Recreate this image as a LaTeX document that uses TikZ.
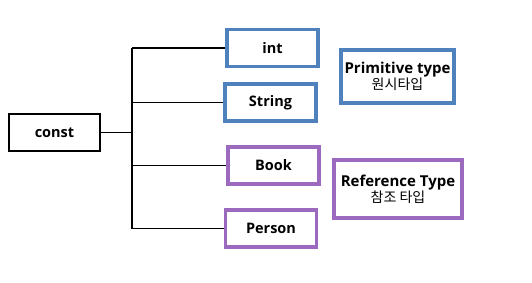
\documentclass[tikz,border=0pt]{standalone}
\usepackage{fontspec}
\setmainfont{Open Sans}
\newfontfamily\kr{Noto Sans CJK KR}
\usetikzlibrary{positioning}

\definecolor{primblue}{RGB}{79,129,189}
\definecolor{refpurple}{RGB}{155,106,190}

\begin{document}
\begin{tikzpicture}[
  x=1pt, y=-1pt,
  box/.style={draw, line width=1.8pt, minimum width=91pt, minimum height=37pt, font=\fontsize{14.5}{16}\selectfont\bfseries},
  primbox/.style={box, draw=primblue, line width=3.4pt},
  refbox/.style={box, draw=refpurple, line width=3.4pt},
  legend/.style={draw, line width=3.4pt, align=center, inner sep=0pt, font=\fontsize{15}{16}\selectfont\bfseries},
  link/.style={line width=1.8pt}
]
\useasboundingbox (0,0) rectangle (532,282);

\node[box] (const) at (54.5,132.5) {const};
\node[primbox] (int) at (272.5,48) {int};
\node[primbox] (string) at (270.5,102.5) {String};
\node[refbox] (book) at (273.5,165.5) {Book};
\node[refbox] (person) at (271,228.5) {Person};

\node[legend, draw=primblue, minimum width=113pt, minimum height=53pt] (prim) at (397.5,76.5)
  {Primitive type\\[0pt]{\kr\mdseries\fontsize{14}{15}\selectfont 원시타입}};
\node[legend, draw=refpurple, minimum width=128pt, minimum height=58pt] (ref) at (398,189)
  {Reference Type\\[0pt]{\kr\mdseries\fontsize{14}{15}\selectfont 참조 타입}};

% trunk
\coordinate (trunk) at (132,0);
\draw[link] (int.west -| trunk) -- (person.west -| trunk);
\draw[link] (const.east) -- (const.east -| trunk);
\foreach \n in {int,string,book,person}
  \draw[link] (\n.west -| trunk) -- (\n.west);
\end{tikzpicture}
\end{document}
